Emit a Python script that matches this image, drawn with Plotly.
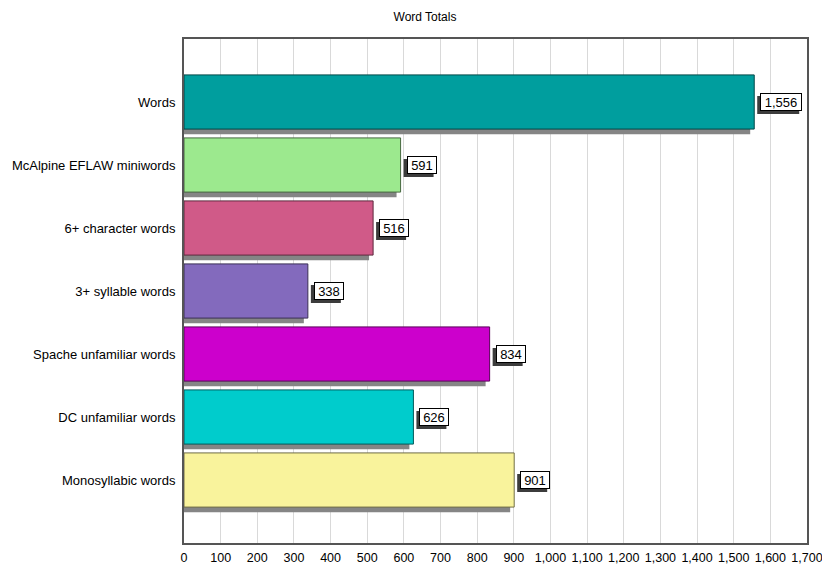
import plotly.graph_objects as go

# Word counts per category, top to bottom
categories = [
    "Words",
    "McAlpine EFLAW miniwords",
    "6+ character words",
    "3+ syllable words",
    "Spache unfamiliar words",
    "DC unfamiliar words",
    "Monosyllabic words",
]
values = [1556, 591, 516, 338, 834, 626, 901]
colors = ["#009E9E", "#9CE98E", "#D05A88", "#836ABD", "#CC00CC", "#00CCCC", "#F9F39C"]
x_ticks = list(range(0, 1701, 100))

FONT = "Liberation Sans, Arial, sans-serif"
BAR_WIDTH = 0.86
SHADOW_DX = 11      # value units the drop shadow sits to the left
SHADOW_DY = 0.08    # category units the drop shadow sits below
LABEL_GAP = 6       # px between bar end and its value box


def darker(hex_color, f=0.45):
    h = hex_color.lstrip("#")
    r, g, b = (int(h[i:i + 2], 16) for i in (0, 2, 4))
    return "rgb({},{},{})".format(int(r * f), int(g * f), int(b * f))


fig = go.Figure()

# drop shadows behind the bars
fig.add_trace(go.Bar(
    y=categories, x=values, base=-SHADOW_DX, orientation="h",
    width=BAR_WIDTH, offset=-BAR_WIDTH / 2 + SHADOW_DY,
    marker=dict(color="#858585", line=dict(width=0)),
    hoverinfo="skip", showlegend=False,
))

# the bars themselves
fig.add_trace(go.Bar(
    y=categories, x=values, orientation="h",
    width=BAR_WIDTH, offset=-BAR_WIDTH / 2,
    marker=dict(color=colors, line=dict(color=[darker(c) for c in colors], width=1)),
    showlegend=False,
))

# value labels: boxed text with a dark offset shadow box
annotations = []
shapes = []
for i, (cat, v) in enumerate(zip(categories, values)):
    label = f"{v:,}"
    inner_w = 6 * len(label) + 8
    inner_h = 14
    box_w = inner_w + 4
    box_h = inner_h + 4
    shapes.append(dict(
        type="rect", layer="above",
        xref="x", xsizemode="pixel", xanchor=v,
        x0=LABEL_GAP - 3, x1=LABEL_GAP - 3 + box_w,
        yref="y", ysizemode="pixel", yanchor=i,
        y0=-box_h / 2 - 3, y1=box_h / 2 - 3,
        fillcolor="#3c3c3c", line=dict(width=0),
    ))
    annotations.append(dict(
        x=v, y=cat, xref="x", yref="y", text=label, showarrow=False,
        xanchor="left", yanchor="middle", xshift=LABEL_GAP, yshift=0,
        width=inner_w, height=inner_h, align="center", valign="middle",
        font=dict(family=FONT, size=13, color="#000000"),
        bgcolor="#ffffff", bordercolor="#000000", borderwidth=1, borderpad=1,
    ))

fig.update_layout(
    width=822, height=565,
    margin=dict(l=184, r=15, t=39, b=22, autoexpand=False),
    paper_bgcolor="white", plot_bgcolor="white",
    barmode="overlay",
    font=dict(family=FONT, size=12, color="#000000"),
    title=dict(text="Word Totals", x=425 / 822, xanchor="center", xref="container",
               y=1 - 17 / 565, yanchor="middle", yref="container",
               font=dict(family=FONT, size=12, color="#000000")),
    annotations=annotations,
    shapes=shapes,
    xaxis=dict(
        range=[0, 1700], tickvals=x_ticks, tickformat=",",
        showgrid=True, gridcolor="#D9D9D9", gridwidth=1,
        showline=True, linecolor="#555555", linewidth=2, mirror=True,
        ticks="", zeroline=False, fixedrange=True, automargin=False,
        ticklabeloverflow="allow", ticklabelstandoff=2,
        tickfont=dict(family=FONT, size=12.5),
    ),
    yaxis=dict(
        categoryorder="array", categoryarray=categories,
        range=[len(categories), -1],
        showgrid=False, showline=True, linecolor="#555555", linewidth=2, mirror=True,
        ticks="", ticklen=0, zeroline=False, fixedrange=True, automargin=False,
        ticklabelstandoff=4,
        tickfont=dict(family=FONT, size=13),
    ),
)

fig.write_html("out.html")
